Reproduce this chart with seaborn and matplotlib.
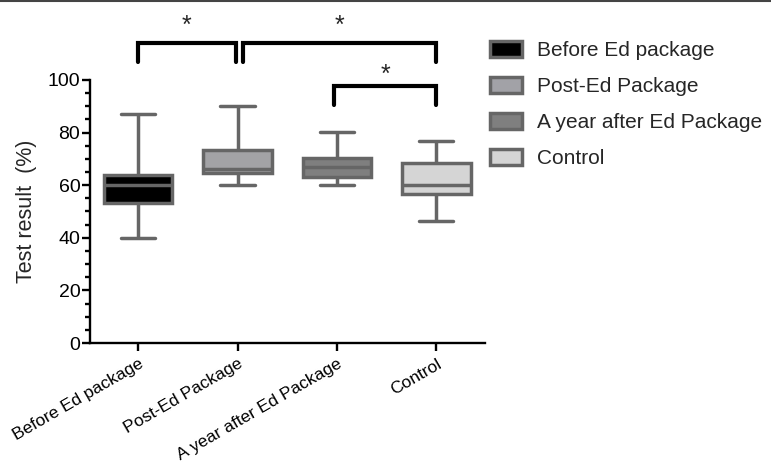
import numpy as np
import pandas as pd
import matplotlib
matplotlib.use("Agg")
import matplotlib.pyplot as plt
from matplotlib.patches import Patch
from matplotlib.lines import Line2D
from matplotlib.ticker import MultipleLocator
import seaborn as sns

# ==============================
# DATA (five-number summaries)
# ==============================

groups = ["Before Ed package", "Post-Ed Package", "A year after Ed Package", "Control"]
before = [40, 53.2, 60, 63.8, 87]
post = [60, 64.8, 66, 73.5, 90.3]
year_after = [60, 63.3, 66.8, 70.2, 80.3]
control = [46.5, 56.6, 60.2, 68.5, 76.9]

fills = ["#000000", "#a2a2a7", "#7f7f7f", "#d5d5d5"]
edge = "#666666"

# significance brackets: (from, to), bar height, leg bottom, star height
comparisons = [(0, 0.98), (1.05, 3), (1.97, 3)]
bar_heights = [114, 114, 97.7]
leg_bottoms = [106.8, 106.8, 90.5]
star_heights = [120.5, 120.5, 101.8]

df = pd.DataFrame({
    "group": np.repeat(groups, 5),
    "score": before + post + year_after + control,
})

# ==============================
# PLOT
# ==============================

sns.set_style("white")
plt.rcParams["font.family"] = ["Liberation Sans", "DejaVu Sans"]

fig = plt.figure(figsize=(7.71, 4.69), dpi=100)
ax = fig.add_axes([90 / 771, 126 / 469, 395 / 771, 263 / 469])

sns.boxplot(
    data=df, x="group", y="score", hue="group", order=groups, hue_order=groups,
    palette=fills, whis=(0, 100), width=0.69, linecolor=edge, linewidth=2.5,
    legend=False, ax=ax,
)

ax.set_xlim(-0.485, 3.49)
ax.set_ylim(0, 100)
ax.yaxis.set_major_locator(MultipleLocator(20))
ax.yaxis.set_minor_locator(MultipleLocator(5))

for side in ["top", "right"]:
    ax.spines[side].set_visible(False)
for side in ["left", "bottom"]:
    ax.spines[side].set_color("black")
    ax.spines[side].set_linewidth(1.7)

ax.tick_params(axis="y", which="major", direction="out", length=5.5, width=1.7,
               colors="black", labelsize=14, left=True, pad=1.5)
ax.tick_params(axis="y", which="minor", direction="out", length=3.5, width=1.7,
               colors="black", left=True)
ax.tick_params(axis="x", direction="out", length=6, width=1.7, colors="black",
               labelsize=12.5, bottom=True)
for lab in ax.get_xticklabels():
    lab.set_rotation(30)
    lab.set_ha("right")
    lab.set_va("top")
    lab.set_rotation_mode("anchor")

ax.set_xlabel("")
ax.set_ylabel("Test result  (%)", fontsize=15.5)
ax.yaxis.set_label_coords(-0.134, 0.5)

# brackets and stars
for (a, b), h, lo, sh in zip(comparisons, bar_heights, leg_bottoms, star_heights):
    ax.plot([a, a, b, b], [lo, h, h, lo], color="black", lw=3,
            solid_capstyle="round", solid_joinstyle="miter", clip_on=False)
    ax.text((a + b) / 2, sh, "*", ha="center", va="center", fontsize=18,
            clip_on=False)

# legend
handles = [Patch(facecolor=c, edgecolor=edge, linewidth=2.5) for c in fills]
fig.legend(handles, groups, loc="upper left", bbox_to_anchor=(490 / 771, 1 - 41 / 469),
           frameon=False, fontsize=15, borderpad=0, borderaxespad=0,
           handlelength=1.55, handleheight=0.82, handletextpad=0.72, labelspacing=0.8)

# thin frame line at the very top of the image
fig.add_artist(Line2D([0, 1], [0.998, 0.998], color="#444444", lw=1.5,
                      transform=fig.transFigure))

plt.savefig("out.png", dpi=100)
plt.close()
